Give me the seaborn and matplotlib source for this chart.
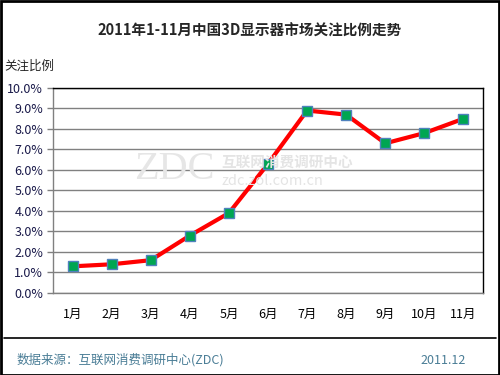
import matplotlib
matplotlib.use("Agg")
import matplotlib.pyplot as plt
import seaborn as sns
from matplotlib.patches import Rectangle
from matplotlib.lines import Line2D

months = ["1月", "2月", "3月", "4月", "5月", "6月", "7月", "8月", "9月", "10月", "11月"]
values = [1.3, 1.4, 1.6, 2.8, 3.9, 6.3, 8.9, 8.7, 7.3, 7.8, 8.5]
yticks = [0, 1, 2, 3, 4, 5, 6, 7, 8, 9, 10]
ytick_labels = [f"{v:.1f}%" for v in yticks]

sns.set_style("white")
plt.rcParams['font.family'] = ['Noto Sans CJK SC', 'DejaVu Sans']

fig = plt.figure(figsize=(5, 3.75), dpi=100)
ax = fig.add_axes([0.106, 0.2187, 0.86, 0.5467])

# watermark
fig.text(0.268, 0.548, "ZDC", fontsize=29, color="#e6e6e6", family=["Liberation Serif"], va="center", ha="left", zorder=0)
fig.text(0.442, 0.568, "互联网消费调研中心", fontsize=10.5, color="#e4e4e4", va="center", ha="left", weight="bold", zorder=0)
fig.text(0.442, 0.518, "zdc.zol.com.cn", fontsize=10.5, color="#e4e4e4", va="center", ha="left", zorder=0)
ax.patch.set_alpha(0)

sns.lineplot(x=months, y=values, ax=ax, color="#ff0000", lw=3, marker="s", markersize=7,
             markerfacecolor="#00a651", markeredgecolor="#4f81bd", markeredgewidth=1, sort=False, zorder=5)

ax.set_xlim(-0.5, 10.5)
ax.set_ylim(0, 10)
ax.set_yticks(yticks)
ax.set_yticklabels(ytick_labels)
ax.set_xlabel("")
ax.set_ylabel("")
ax.yaxis.grid(True, color="#808080", lw=1)
ax.set_axisbelow(True)
ax.tick_params(axis="y", left=True, length=4, color="#808080", width=1, labelsize=9, labelcolor="#1a1a4a", pad=3)
ax.tick_params(axis="x", bottom=False, labelsize=9, labelcolor="black", pad=7)
for s in ["left", "bottom"]:
    ax.spines[s].set_color("#808080")
    ax.spines[s].set_linewidth(1)
for s in ["top", "right"]:
    ax.spines[s].set_color("black")
    ax.spines[s].set_linewidth(1)
    ax.spines[s].set_visible(True)

fig.text(0.5, 0.917, "2011年1-11月中国3D显示器市场关注比例走势", ha="center", va="center", fontsize=10.5, weight="bold")
fig.text(0.008, 0.824, "关注比例", ha="left", va="center", fontsize=9)

fig.add_artist(Line2D([0.008, 0.992], [0.0987, 0.0987], color="black", lw=1.2, transform=fig.transFigure))
fig.text(0.034, 0.04, "数据来源：互联网消费调研中心(ZDC)", ha="left", va="center", fontsize=9, color="#4a7d96")
fig.text(0.932, 0.04, "2011.12", ha="right", va="center", fontsize=9, color="#4a7d96")

fig.add_artist(Rectangle((0.001, 0.001), 0.997, 0.997, transform=fig.transFigure, fill=False, edgecolor="black", lw=2))

fig.savefig("out.png", dpi=100)
